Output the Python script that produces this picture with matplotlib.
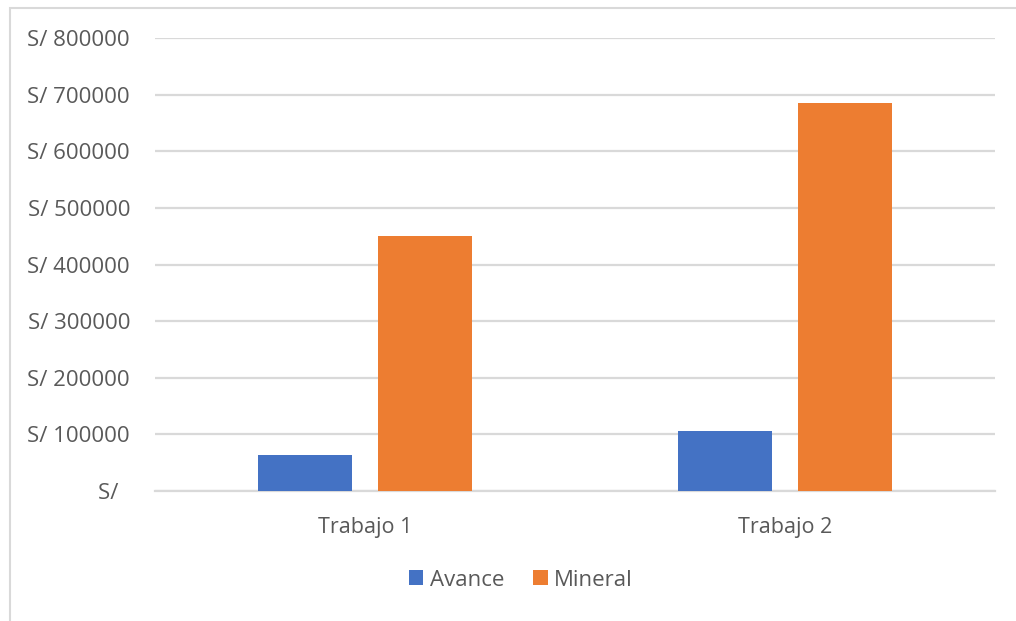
import matplotlib

matplotlib.use("Agg")

import matplotlib.pyplot as plt
import matplotlib.ticker as mticker
import numpy as np
from matplotlib.patches import Rectangle

CATEGORIES = ["Trabajo 1", "Trabajo 2"]
AVANCE = [64000, 106000]
MINERAL = [451000, 685000]
Y_TICKS = [0, 100000, 200000, 300000, 400000, 500000, 600000, 700000, 800000]

BLUE = "#4472C4"
ORANGE = "#ED7D31"
GRID = "#D9D9D9"
TEXT = "#595959"

plt.rcParams["font.family"] = ["Open Sans", "DejaVu Sans"]


def soles(v, _pos):
    if v == 0:
        return "S/\u00a0\u00a0"
    return f"S/ {v:.0f}"


fig = plt.figure(figsize=(10.16, 6.21), dpi=100)
ax = fig.add_axes([0.1526, 0.2093, 0.8267, 0.7290])

x = np.arange(len(CATEGORIES))
w = 0.222
off = 0.143
ax.bar(x - off, AVANCE, w, color=BLUE, label="Avance", zorder=3)
ax.bar(x + off, MINERAL, w, color=ORANGE, label="Mineral", zorder=3)

ax.set_xlim(-0.5, 1.5)
ax.set_ylim(0, 800000)
ax.set_yticks(Y_TICKS)
ax.yaxis.set_major_formatter(mticker.FuncFormatter(soles))
ax.set_xticks(x)
ax.set_xticklabels(CATEGORIES)

ax.grid(axis="y", color=GRID, linewidth=1.6, zorder=0)
for side in ["top", "right", "left"]:
    ax.spines[side].set_visible(False)
ax.spines["bottom"].set_color(GRID)
ax.spines["bottom"].set_linewidth(1.6)
ax.tick_params(axis="y", length=0, pad=18, labelsize=16, labelcolor=TEXT)
ax.tick_params(axis="x", length=0, pad=19, labelsize=15.5, labelcolor=TEXT)

fig.legend(
    loc="center",
    bbox_to_anchor=(521 / 1016, 1 - 580 / 621),
    ncol=2,
    frameon=False,
    fontsize=16,
    labelcolor=TEXT,
    handlelength=0.65,
    handleheight=0.65,
    handletextpad=0.3,
    columnspacing=1.3,
)

# light frame around the chart area
fig.patches.append(
    Rectangle(
        (10 / 1016, -0.05),
        1.1,
        1 - 8 / 621 + 0.05,
        transform=fig.transFigure,
        fill=False,
        edgecolor="#D9D9D9",
        linewidth=1.5,
    )
)

fig.savefig("out.png", dpi=100)
